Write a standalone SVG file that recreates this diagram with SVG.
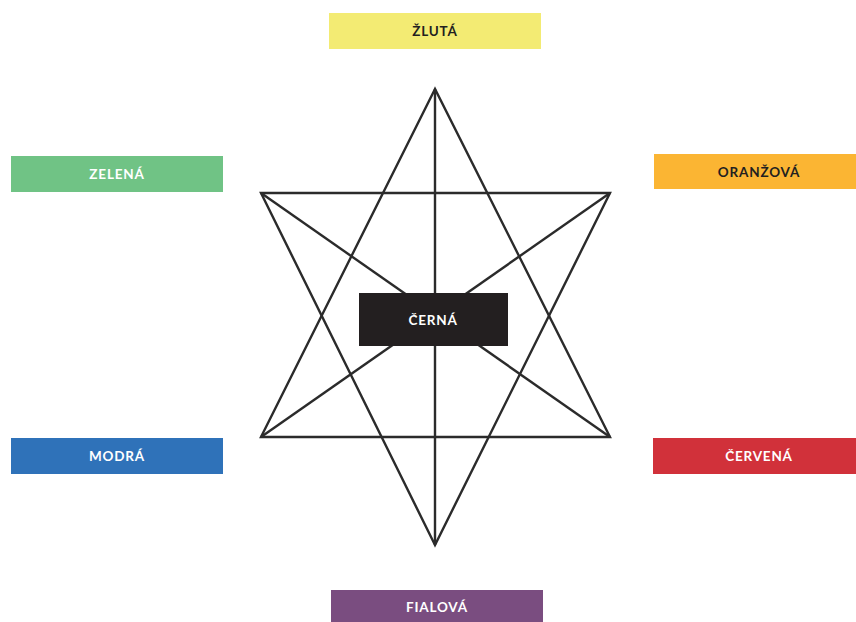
<svg xmlns="http://www.w3.org/2000/svg" width="856" height="622" viewBox="0 0 856 622">
<style>
.lbl{font-family:Lato,"Open Sans","Liberation Sans",sans-serif;font-weight:bold;font-size:13.5px;letter-spacing:0.8px;text-anchor:middle;dominant-baseline:central}
.dk{fill:#231f20}
.wt{fill:#ffffff}
.ln{stroke:#2b2b2b;stroke-width:2.4;fill:none;stroke-linejoin:miter}
</style>
<rect width="856" height="622" fill="#ffffff"/>
<g id="connectors">
<polygon class="ln" points="435,89 261,437 610,437"/>
<polygon class="ln" points="435,545 261,193 610,193"/>
<line class="ln" x1="435" y1="89" x2="435" y2="545"/>
<line class="ln" x1="261" y1="193" x2="610" y2="437"/>
<line class="ln" x1="610" y1="193" x2="261" y2="437"/>
</g>
<g id="zluta"><rect x="329" y="13" width="212" height="36" fill="#f3eb73"/><text class="lbl dk" x="435" y="31">ŽLUTÁ</text></g>
<g id="zelena"><rect x="11" y="156" width="212" height="36" fill="#70c385"/><text class="lbl wt" x="117" y="174">ZELENÁ</text></g>
<g id="oranzova"><rect x="654" y="154" width="202" height="35" fill="#fbb533"/><text class="lbl dk" x="759" y="172">ORANŽOVÁ</text></g>
<g id="cerna"><rect x="359" y="293" width="149" height="53" fill="#231f20"/><text class="lbl wt" x="433" y="320">ČERNÁ</text></g>
<g id="modra"><rect x="11" y="438" width="212" height="36" fill="#2f72b9"/><text class="lbl wt" x="117" y="456">MODRÁ</text></g>
<g id="cervena"><rect x="653" y="438" width="203" height="36" fill="#d1313a"/><text class="lbl wt" x="759" y="456">ČERVENÁ</text></g>
<g id="fialova"><rect x="331" y="590" width="212" height="32" fill="#7a4d80"/><text class="lbl wt" x="437" y="607">FIALOVÁ</text></g>
</svg>
